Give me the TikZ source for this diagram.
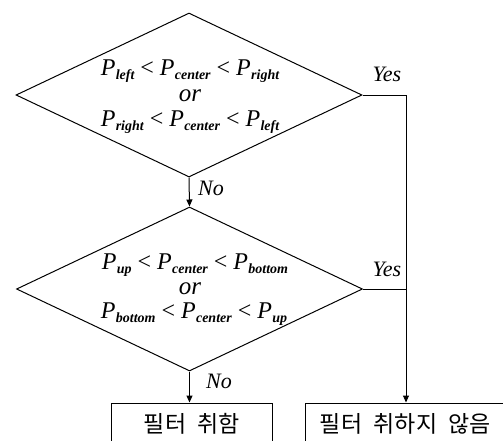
\documentclass[tikz,border=0pt]{standalone}
\usepackage{fontspec}
\setmainfont{Liberation Serif}
\newfontfamily\krfont{Noto Sans CJK KR}
\usetikzlibrary{shapes.geometric,arrows.meta}
\newcommand\Pv[1]{\textit{P}\kern0.3pt\raisebox{-0.2em}{\fontsize{14}{14}\selectfont\bfseries\itshape #1}}
\begin{document}
\begin{tikzpicture}[x=1pt,y=-1pt,
  line width=1pt,
  decision/.style={diamond, draw, inner sep=0pt, minimum width=346pt, minimum height=164pt},
  condline/.style={font=\fontsize{24}{24}\selectfont, inner sep=0pt, text height=16pt, text depth=6pt},
  orline/.style={font=\fontsize{25}{25}\selectfont\itshape, inner sep=0pt, text height=11pt, text depth=0.5pt},
  lbl/.style={font=\fontsize{22}{22}\selectfont\itshape, inner sep=0pt},
  result/.style={draw, minimum height=42pt, inner sep=0pt, font=\krfont\fontsize{23}{23}\selectfont},
  arr/.style={-{Triangle[length=7pt,width=6pt]}}]
\useasboundingbox (0,0) rectangle (503,440);
\clip (0,0) rectangle (503,440);
\node[decision] (d1) at (189,95) {};
\node[condline] (a1) at (190,70) {\Pv{left} < \Pv{center} < \Pv{right}};
\node[orline] (o1) at (190,96) {or};
\node[condline] (b1) at (190,121) {\Pv{right} < \Pv{center} < \Pv{left}};
\node[decision] (d2) at (189.5,289) {};
\node[condline] (a2) at (195,264) {\Pv{up} < \Pv{center} < \Pv{bottom}};
\node[orline] (o2) at (190,289) {or};
\node[condline] (b2) at (194,313) {\Pv{bottom} < \Pv{center} < \Pv{up}};
\node[result, minimum width=161pt] (r1) at (192,424) {필터\hspace{0.5em}취함};
\node[result, minimum width=205pt] (r2) at (407.5,424) {\hspace{-4pt}필터\hspace{0.5em}취하지\hspace{0.5em}않음};
\coordinate (j1) at (406,95);
\coordinate (j2) at (406,289);
\draw[arr] (d1.south) -- (d2.north);
\draw[arr] (d2.south) -- (d2.south |- r1.north);
\draw (d2.east) -- (j2);
\draw[arr] (d1.east) -- (j1) -- (j1 |- r2.north);
\node[lbl] (y1) at (387,74) {Yes};
\node[lbl] (y2) at (387,269) {Yes};
\node[lbl] (n1) at (211,188) {No};
\node[lbl] (n2) at (219,381) {No};
\end{tikzpicture}
\end{document}
